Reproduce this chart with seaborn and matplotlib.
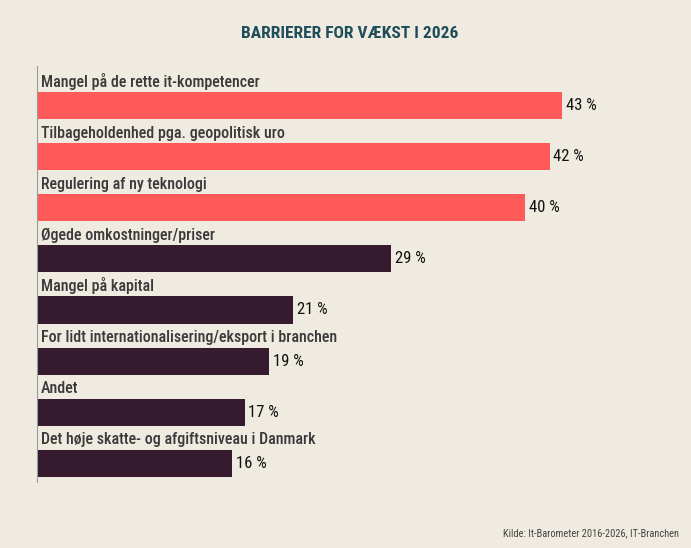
import matplotlib
matplotlib.use("Agg")
import matplotlib.pyplot as plt
import seaborn as sns
import pandas as pd

# Data
categories = [
    "Mangel på de rette it-kompetencer",
    "Tilbageholdenhed pga. geopolitisk uro",
    "Regulering af ny teknologi",
    "Øgede omkostninger/priser",
    "Mangel på kapital",
    "For lidt internationalisering/eksport i branchen",
    "Andet",
    "Det høje skatte- og afgiftsniveau i Danmark",
]
values = [43, 42, 40, 29, 21, 19, 17, 16]
highlight = [True, True, True, False, False, False, False, False]

title = "BARRIERER FOR VÆKST I 2026"
source = "Kilde: It-Barometer 2016-2026, IT-Branchen"

bg = "#F0EBE1"
red = "#FF5A5A"
dark = "#361B2E"

sns.set_theme(style="white")
plt.rcParams['font.family'] = ['Roboto Condensed', 'Roboto', 'DejaVu Sans']

df = pd.DataFrame({"cat": categories, "val": values})
colors = {c: (red if h else dark) for c, h in zip(categories, highlight)}

fig = plt.figure(figsize=(6.91, 5.48), dpi=100, facecolor=bg)
ax = fig.add_axes([37 / 691, 1 - 482 / 548, (647.5 - 37) / 691, (482 - 66) / 548])
ax.set_facecolor(bg)

sns.barplot(data=df, x="val", y="cat", hue="cat", palette=colors, orient="h",
            width=0.53, legend=False, saturation=1, linewidth=0, ax=ax)

ax.set_xlim(0, 50)
ax.set_ylim(7.37, -0.78)

for i, (c, v) in enumerate(zip(categories, values)):
    ax.text(0.3, i - 0.31, c, ha="left", va="bottom", fontsize=11.5,
            color="#3a3a3a", fontweight="medium")
    ax.text(v + 0.3, i, f"{v} %", ha="left", va="center", fontsize=12,
            color="#111111")

ax.set_xticks([])
ax.set_yticks([])
ax.set_xlabel("")
ax.set_ylabel("")
for s in ["top", "right", "bottom"]:
    ax.spines[s].set_visible(False)
ax.spines["left"].set_color("#9a9a9a")
ax.spines["left"].set_linewidth(0.8)

fig.text(350 / 691, 1 - 33 / 548, title, ha="center", va="center",
         fontsize=12.5, color="#1F4E5A", fontweight="bold")
fig.text(679 / 691, 1 - 533 / 548, source, ha="right", va="center",
         fontsize=7.5, color="#444444")

fig.savefig("out.png", dpi=100, facecolor=bg)
